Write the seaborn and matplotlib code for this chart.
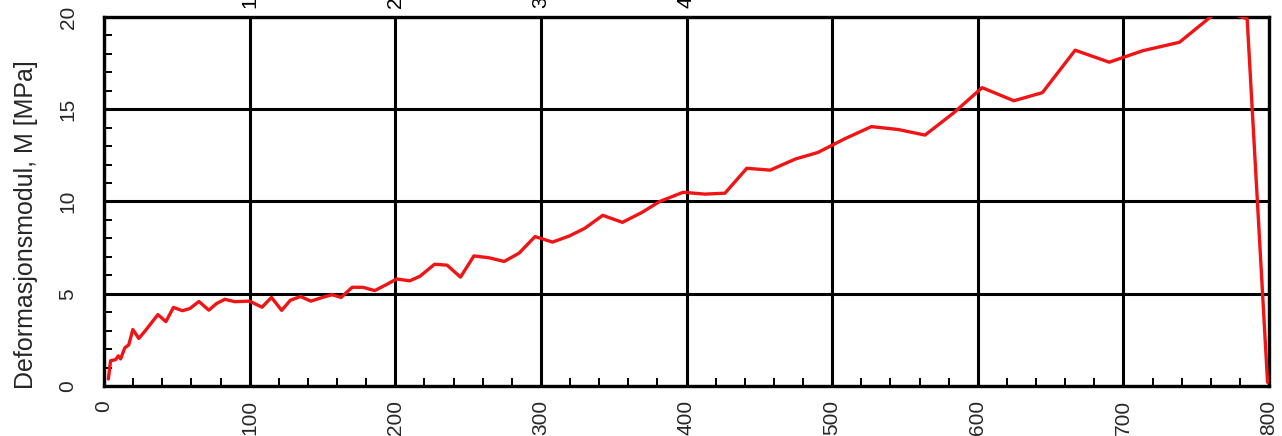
import numpy as np
import pandas as pd
import matplotlib
matplotlib.use("Agg")
import matplotlib.pyplot as plt
from matplotlib.ticker import MultipleLocator
import seaborn as sns

# Load (x) and deformation modulus M in MPa (y)
load = [3, 4.5, 8, 9.8, 11.4, 14.3, 17, 19.8, 23.9, 28.4, 37, 42.5, 47.7, 53.9,
        59, 65.2, 72, 77.3, 83, 89.8, 100, 108.5, 115, 122, 128, 135, 142, 150,
        156.6, 162.8, 170.4, 177.8, 185.9, 194, 201, 210, 217, 227, 235.6, 244.8,
        254, 264.4, 274.8, 285, 296, 308, 319.5, 330, 342.5, 356, 369, 381.6,
        397.7, 412.6, 426.4, 441.4, 457.5, 474.7, 490.3, 508.7, 527, 545.5,
        563.8, 583.4, 603, 624.8, 644.4, 666.9, 690.3, 713.2, 738.5, 766, 785,
        799]
modulus = [0.38, 1.37, 1.43, 1.63, 1.47, 2.07, 2.23, 3.06, 2.58, 3.0, 3.87, 3.49,
           4.26, 4.08, 4.2, 4.58, 4.11, 4.47, 4.7, 4.57, 4.6, 4.27, 4.8, 4.1,
           4.65, 4.85, 4.6, 4.8, 4.95, 4.8, 5.35, 5.35, 5.17, 5.5, 5.8, 5.7, 5.95,
           6.6, 6.55, 5.9, 7.05, 6.95, 6.75, 7.2, 8.1, 7.8, 8.13, 8.54, 9.25, 8.87,
           9.39, 10.0, 10.5, 10.4, 10.45, 11.8, 11.7, 12.3, 12.66, 13.4, 14.06,
           13.9, 13.6, 14.8, 16.17, 15.46, 15.9, 18.2, 17.55, 18.17, 18.63, 20.4,
           19.9, 0.2]

x_ticks = [0, 100, 200, 300, 400, 500, 600, 700, 800]
y_ticks = [0, 5, 10, 15, 20]
upper_labels = ["100", "200", "300", "400"]
y_label = "Deformasjonsmodul, M [MPa]"

sns.set_style("white")
plt.rcParams["font.family"] = ["Liberation Sans", "DejaVu Sans"]

W, H = 1282, 436
L, R, T, B = 104, 1269, 17, 386
fig = plt.figure(figsize=(W / 100, H / 100), dpi=100)
ax = fig.add_axes([L / W, 1 - B / H, (R - L) / W, (B - T) / H])

df = pd.DataFrame({"load": load, "modulus": modulus})
sns.lineplot(data=df, x="load", y="modulus", ax=ax, color="#f01414",
             linewidth=2.4, sort=False, zorder=3)

ax.set_xlim(0, 800)
ax.set_ylim(0, 20)
ax.set_xticks(x_ticks)
ax.set_yticks(y_ticks)
ax.xaxis.set_minor_locator(MultipleLocator(20))
ax.yaxis.set_minor_locator(MultipleLocator(1))
ax.grid(True, which="major", color="black", linewidth=2.2, zorder=1)
ax.set_axisbelow(True)

for s in ax.spines.values():
    s.set_color("black")
    s.set_linewidth(2.4)

ax.tick_params(which="major", direction="out", length=5, width=2.0,
               color="black", labelsize=15)
ax.tick_params(axis="x", which="major", pad=5)
ax.tick_params(axis="y", which="major", pad=14)
ax.tick_params(which="minor", direction="in", length=6, width=1.4,
               color="black", bottom=True, left=True)
ax.tick_params(axis="x", labelrotation=90)
ax.tick_params(axis="y", labelrotation=90)
for lab in ax.get_yticklabels():
    lab.set_va("center")

ax.set_xlabel("")
ax.set_ylabel(y_label, fontsize=18)
ax.yaxis.set_label_coords((38 - L) / (R - L), (B - 225) / (B - T))

# Tick labels of the panel above, cut by the top edge
for val, lab in zip(x_ticks[1:5], upper_labels):
    xf = (L + val * (R - L) / 800) / W
    fig.text(xf, 1 - 8 / H, lab, rotation=90, ha="center", va="bottom",
             fontsize=15, color="black")

fig.savefig("out.png", dpi=100)
